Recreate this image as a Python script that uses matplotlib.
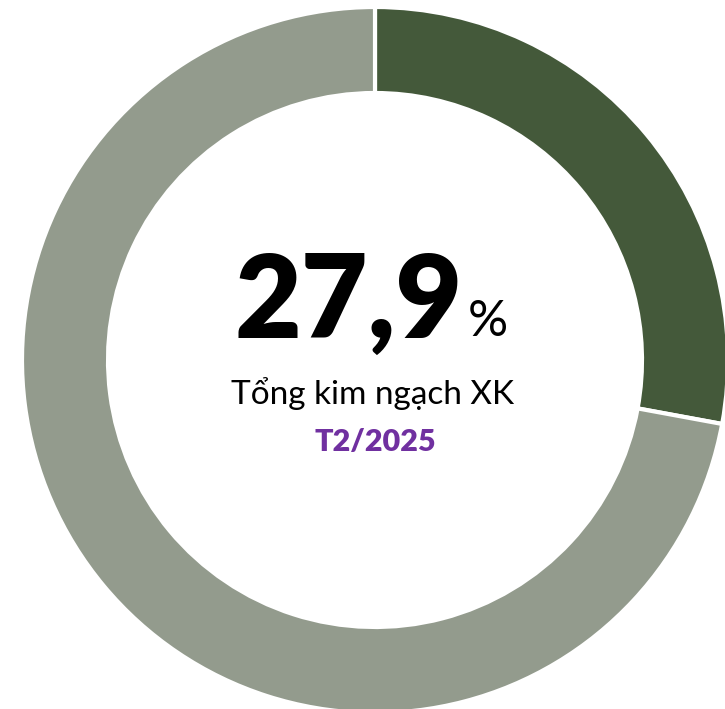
import matplotlib.pyplot as plt

shares = [27.9, 72.1]
colors = ['#44593a', '#939b8d']
value_label = '27,9'
title_label = 'Tổng kim ngạch XK'
period_label = 'T2/2025'

W, H = 725, 709
fig = plt.figure(figsize=(W / 100, H / 100), dpi=100)
ax = fig.add_axes([0, 0, 1, 1])
ax.set_xlim(0, W)
ax.set_ylim(0, H)
ax.set_aspect('equal')
ax.axis('off')

cx, cy = 375, H - 360
ax.pie(shares, colors=colors, startangle=90, counterclock=False,
       center=(cx, cy), radius=353,
       wedgeprops=dict(width=86, edgecolor='white', linewidth=3))
ax.set_xlim(0, W)
ax.set_ylim(0, H)

ax.text(349, H - 294, value_label, ha='center', va='center_baseline',
        fontsize=83, fontweight='heavy', family='Lato', color='black')
ax.text(488, H - 317, '%', ha='center', va='center_baseline',
        fontsize=36, family='Lato', color='black')
ax.text(373, H - 391, title_label, ha='center', va='center_baseline',
        fontsize=24, family='Lato', color='black')
ax.text(375, H - 439, period_label, ha='center', va='center_baseline',
        fontsize=22, fontweight='heavy', family='Lato', color='#7030a0')

fig.savefig('out.png', dpi=100)
